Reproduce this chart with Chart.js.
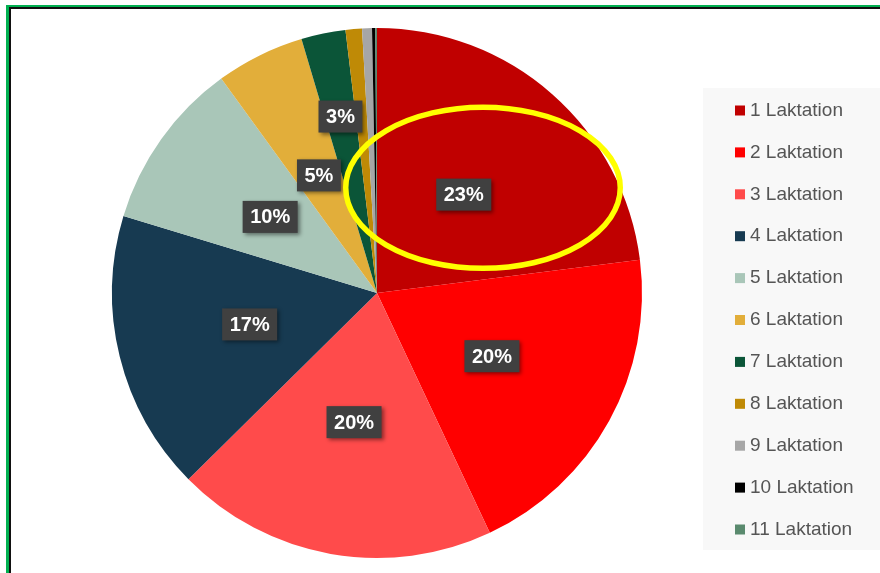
<!DOCTYPE html>
<html>
<head>
<meta charset="utf-8">
<script src="https://cdn.jsdelivr.net/npm/chart.js@4.4.0/dist/chart.umd.min.js"></script>
<style>
  html, body { margin: 0; padding: 0; background: #fff; }
  #wrap { position: relative; width: 880px; height: 573px; overflow: hidden; }
  #frame { position: absolute; left: 6px; top: 5px; right: -10px; bottom: -10px;
           border-left: 3px solid #00b050; border-top: 2px solid #00b050; pointer-events: none; }
  #frame div { position: absolute; left: 0; top: 0; right: 0; bottom: 0;
               border-left: 2px solid #111; border-top: 2px solid #111; }
</style>
</head>
<body>
<div id="wrap">
  <canvas id="laktChart" width="880" height="573"></canvas>
  <div id="frame"><div></div></div>
</div>
<script>
// Anteile je Laktation (in %)
const categories = ['1 Laktation', '2 Laktation', '3 Laktation', '4 Laktation', '5 Laktation',
  '6 Laktation', '7 Laktation', '8 Laktation', '9 Laktation', '10 Laktation', '11 Laktation'];
const shares = [23.0, 20.0, 19.6, 17.1, 10.3, 5.4, 2.7, 1.0, 0.6, 0.2, 0.1];
const sliceColors = ['#c00000', '#ff0000', '#ff4b4b', '#173a51', '#a9c6b8',
  '#e2ae3a', '#0b5538', '#bf8a06', '#a6a6a6', '#000000', '#5a8a6e'];

const total = shares.reduce((a, b) => a + b, 0);

// Prozent-Labels in dunklen Kästchen
const sliceLabels = {
  id: 'sliceLabels',
  afterDatasetsDraw(chart) {
    const ctx = chart.ctx;
    const meta = chart.getDatasetMeta(0);
    ctx.save();
    ctx.font = 'bold 20px "Liberation Sans", Arial, sans-serif';
    ctx.textAlign = 'center';
    ctx.textBaseline = 'middle';
    meta.data.forEach((arc, i) => {
      const frac = shares[i] / total;
      if (frac < 0.025) return;
      const p = arc.getProps(['x', 'y', 'startAngle', 'endAngle', 'outerRadius'], true);
      const mid = (p.startAngle + p.endAngle) / 2;
      const r = p.outerRadius * (frac < 0.04 ? 0.68 : 0.495);
      const lx = p.x + Math.cos(mid) * r;
      const ly = p.y + Math.sin(mid) * r;
      const txt = Math.round(frac * 100) + '%';
      const w = ctx.measureText(txt).width + 15;
      const h = 32;
      ctx.shadowColor = 'rgba(0,0,0,0.45)';
      ctx.shadowBlur = 4;
      ctx.shadowOffsetX = 2;
      ctx.shadowOffsetY = 2;
      ctx.fillStyle = '#404040';
      ctx.fillRect(lx - w / 2, ly - h / 2, w, h);
      ctx.shadowColor = 'transparent';
      ctx.fillStyle = '#ffffff';
      ctx.fillText(txt, lx, ly + 1);
    });
    ctx.restore();
  }
};

// gelbe Markierung um die 1. Laktation
const highlight = {
  id: 'highlight',
  afterDatasetsDraw(chart) {
    const arc = chart.getDatasetMeta(0).data[0];
    const p = arc.getProps(['x', 'y', 'outerRadius'], true);
    const R = p.outerRadius;
    const ctx = chart.ctx;
    ctx.save();
    ctx.beginPath();
    ctx.ellipse(p.x + 0.40 * R, p.y - 0.397 * R, 0.518 * R, 0.304 * R, 0, 0, Math.PI * 2);
    ctx.lineWidth = 5.5;
    ctx.strokeStyle = '#ffff00';
    ctx.stroke();
    ctx.restore();
  }
};

// Legende rechts mit grauem Hintergrund
const sideLegend = {
  id: 'sideLegend',
  afterDraw(chart) {
    const ctx = chart.ctx;
    ctx.save();
    ctx.fillStyle = '#f8f8f8';
    ctx.fillRect(703, 88, 177, 462);
    ctx.font = '19px "Liberation Sans", Arial, sans-serif';
    ctx.textBaseline = 'middle';
    ctx.textAlign = 'left';
    chart.data.labels.forEach((lbl, i) => {
      const y = 110.5 + i * 41.9;
      ctx.fillStyle = sliceColors[i];
      ctx.fillRect(735, y - 5, 10, 10);
      ctx.fillStyle = '#555555';
      ctx.fillText(lbl, 750, y);
    });
    ctx.restore();
  }
};

new Chart(document.getElementById('laktChart'), {
  type: 'pie',
  data: {
    labels: categories,
    datasets: [{
      data: shares,
      backgroundColor: sliceColors,
      borderWidth: 0
    }]
  },
  options: {
    responsive: false,
    animation: false,
    layout: { padding: { left: 112, right: 238, top: 28, bottom: 15 } },
    plugins: {
      legend: { display: false },
      tooltip: { enabled: false }
    }
  },
  plugins: [sliceLabels, highlight, sideLegend]
});
</script>
</body>
</html>
